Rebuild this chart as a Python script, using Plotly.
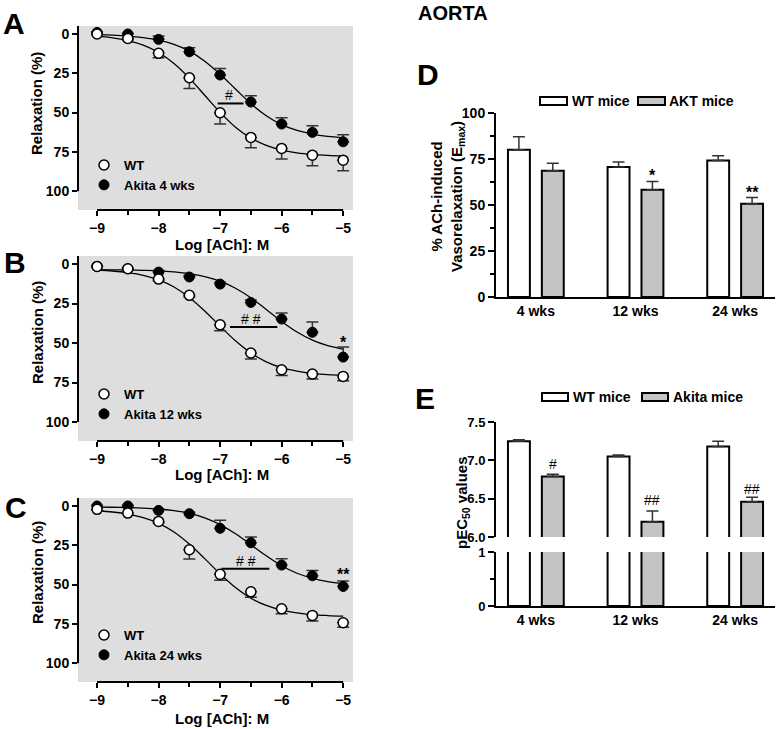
import plotly.graph_objects as go

W, H = 779, 729
FONT = "Liberation Sans, Arial, sans-serif"


def px(x):
    return x / W


def py(y):
    return 1 - y / H


# ---------------- data ----------------
log_ach = [-9, -8.5, -8, -7.5, -7, -6.5, -6, -5.5, -5]
fit_x = [-9, -8.75, -8.5, -8.25, -8, -7.75, -7.5, -7.25, -7, -6.75, -6.5,
         -6.25, -6, -5.75, -5.5, -5.25, -5]

# Panel A: 4 wks
A_wt = [0.0, 2.8, 12.3, 27.8, 50.1, 65.8, 72.8, 77.1, 80.3]
A_wt_err = [0.5, 0.8, 2.8, 6.8, 7.2, 6.6, 6.8, 6.8, 6.7]
A_ak = [-1.0, 0.0, 3.4, 11.3, 26.1, 43.3, 57.3, 62.6, 68.6]
A_ak_err = [0.5, 0.5, 2.1, 2.6, 4.2, 4.0, 4.0, 4.2, 4.5]
A_wt_fit = [1.4, 2.4, 4.2, 7.1, 11.8, 18.8, 28.1, 39.0, 49.9, 59.3, 66.2,
            70.9, 73.9, 75.6, 76.6, 77.2, 77.6]
A_ak_fit = [0.4, 0.7, 1.3, 2.3, 3.9, 6.6, 10.9, 17.3, 25.6, 35.0, 44.3,
            52.0, 57.7, 61.4, 63.7, 65.1, 65.9]

# Panel B: 12 wks
B_wt = [1.5, 3.0, 9.5, 19.8, 38.4, 56.3, 66.9, 69.6, 71.1]
B_wt_err = [0.5, 0.5, 1.0, 1.0, 3.8, 3.8, 3.6, 3.2, 2.7]
B_ak = [1.5, 3.0, 5.1, 8.2, 12.7, 24.3, 34.8, 43.2, 58.9]
B_ak_err = [0.5, 0.5, 1.0, 1.0, 1.2, 1.5, 3.8, 6.5, 6.4]
B_wt_fit = [3.8, 4.4, 5.4, 7.1, 10.0, 14.5, 21.1, 29.7, 39.3, 48.6, 56.3,
            61.9, 65.6, 67.8, 69.2, 70.0, 70.4]
B_ak_fit = [3.6, 3.7, 3.8, 4.0, 4.3, 5.0, 6.1, 7.9, 10.8, 15.3, 21.3,
            28.7, 36.3, 43.0, 48.1, 51.6, 53.8]

# Panel C: 24 wks
C_wt = [2.1, 4.5, 9.8, 27.8, 43.5, 54.6, 65.4, 69.6, 74.3]
C_wt_err = [0.5, 0.5, 1.0, 6.0, 3.8, 3.4, 3.2, 3.6, 2.8]
C_ak = [0.0, 0.0, 2.8, 4.9, 14.2, 23.4, 37.6, 44.4, 51.2]
C_ak_err = [0.5, 0.5, 0.8, 1.0, 5.1, 3.7, 4.1, 3.4, 3.4]
C_wt_fit = [3.0, 3.8, 5.1, 7.4, 11.0, 16.5, 24.2, 33.5, 43.2, 51.9, 58.7,
            63.3, 66.3, 68.0, 69.1, 69.7, 70.1]
C_ak_fit = [0.7, 0.8, 1.0, 1.3, 1.9, 3.0, 4.7, 7.5, 11.8, 17.6, 24.6,
            31.7, 38.0, 42.8, 46.0, 48.1, 49.3]

# Panel D: Emax
weeks = ["4 wks", "12 wks", "24 wks"]
emax_wt = [80.0, 70.7, 74.2]
emax_wt_err = [7.1, 2.7, 2.6]
emax_akt = [68.6, 58.3, 50.7]
emax_akt_err = [4.1, 4.5, 3.4]

# Panel E: pEC50
pec_wt = [7.25, 7.05, 7.18]
pec_wt_err = [0.02, 0.02, 0.07]
pec_ak = [6.79, 6.20, 6.46]
pec_ak_err = [0.03, 0.14, 0.06]

curve_ticks = [0, 25, 50, 75, 100]
curve_x_ticks = [-9, -8, -7, -6, -5]

# ---------------- figure ----------------
fig = go.Figure()

GRAY_BG = "#dedede"
BAR_GRAY = "#c4c4c4"
ERR_COL = "#333333"

panels = [
    ("", "", "legend", "Akita 4 wks", A_wt, A_wt_err, A_ak, A_ak_err, A_wt_fit, A_ak_fit),
    ("2", "2", "legend2", "Akita 12 wks", B_wt, B_wt_err, B_ak, B_ak_err, B_wt_fit, B_ak_fit),
    ("3", "3", "legend3", "Akita 24 wks", C_wt, C_wt_err, C_ak, C_ak_err, C_wt_fit, C_ak_fit),
]

for xs, ys, leg, ak_name, wt, wt_err, ak, ak_err, wt_fit, ak_fit in panels:
    xa, ya = "x" + xs, "y" + ys
    fig.add_trace(go.Scatter(x=fit_x, y=wt_fit, mode="lines", line=dict(color="black", width=1.3, shape="spline"),
                             xaxis=xa, yaxis=ya, showlegend=False, hoverinfo="skip"))
    fig.add_trace(go.Scatter(x=fit_x, y=ak_fit, mode="lines", line=dict(color="black", width=1.3, shape="spline"),
                             xaxis=xa, yaxis=ya, showlegend=False, hoverinfo="skip"))
    fig.add_trace(go.Scatter(
        x=log_ach, y=ak, mode="markers", name=ak_name, legend=leg, legendrank=2,
        marker=dict(color="black", size=10, line=dict(color="black", width=1)),
        error_y=dict(type="data", symmetric=False, array=[0] * len(ak), arrayminus=ak_err,
                     color=ERR_COL, thickness=1.5, width=6),
        xaxis=xa, yaxis=ya))
    fig.add_trace(go.Scatter(
        x=log_ach, y=wt, mode="markers", name="WT", legend=leg, legendrank=1,
        marker=dict(color="white", size=10, line=dict(color="black", width=1.5)),
        error_y=dict(type="data", symmetric=False, array=wt_err, arrayminus=[0] * len(wt),
                     color=ERR_COL, thickness=1.5, width=6),
        xaxis=xa, yaxis=ya))

# Panel D bars
fig.add_trace(go.Bar(x=weeks, y=emax_wt, offset=-0.28, width=0.22, marker=dict(color="white", line=dict(color="black", width=2)),
                     error_y=dict(type="data", symmetric=False, array=emax_wt_err, arrayminus=[0, 0, 0], color=ERR_COL, thickness=1.5, width=6),
                     xaxis="x4", yaxis="y4", showlegend=False))
fig.add_trace(go.Bar(x=weeks, y=emax_akt, offset=0.06, width=0.22, marker=dict(color=BAR_GRAY, line=dict(color="black", width=2)),
                     error_y=dict(type="data", symmetric=False, array=emax_akt_err, arrayminus=[0, 0, 0], color=ERR_COL, thickness=1.5, width=6),
                     xaxis="x4", yaxis="y4", showlegend=False))

# Panel E bars (broken axis: upper y5, lower y6)
for yax, with_err in (("y5", True), ("y6", False)):
    fig.add_trace(go.Bar(x=weeks, y=pec_wt, offset=-0.28, width=0.22, marker=dict(color="white", line=dict(color="black", width=2)),
                         error_y=dict(type="data", symmetric=False, array=pec_wt_err, arrayminus=[0, 0, 0], color=ERR_COL,
                                      thickness=1.5, width=6, visible=with_err),
                         xaxis="x5", yaxis=yax, showlegend=False))
    fig.add_trace(go.Bar(x=weeks, y=pec_ak, offset=0.06, width=0.22, marker=dict(color=BAR_GRAY, line=dict(color="black", width=2)),
                         error_y=dict(type="data", symmetric=False, array=pec_ak_err, arrayminus=[0, 0, 0], color=ERR_COL,
                                      thickness=1.5, width=6, visible=with_err),
                         xaxis="x5", yaxis=yax, showlegend=False))

tickfont = dict(family=FONT, size=14, color="black", weight="bold")

# curve panel axes
curve_dom_x = [px(78), px(353)]
curve_dom_y = [[py(210), py(26)], [py(441), py(256)], [py(682), py(498)]]
for i, (xs, ys) in enumerate([("", ""), ("2", "2"), ("3", "3")]):
    fig.layout["xaxis" + xs] = dict(
        domain=curve_dom_x, range=[-9.31, -4.84], anchor="y" + ys, tickvals=curve_x_ticks,
        ticks="outside", ticklen=5, tickwidth=2, tickcolor="black", showline=False, showgrid=False,
        zeroline=False, tickfont=tickfont, automargin=False,
        minor=dict(dtick=0.5, tick0=-9, ticks="outside", ticklen=4, tickwidth=2, tickcolor="black", showgrid=False))
    fig.layout["yaxis" + ys] = dict(
        domain=curve_dom_y[i], range=[112, -5.1], anchor="x" + xs, tickvals=curve_ticks,
        ticks="outside", ticklen=5, tickwidth=2, tickcolor="black", showline=False, showgrid=False,
        zeroline=False, tickfont=tickfont, automargin=False)

fig.layout["xaxis4"] = dict(domain=[px(496), px(775)], range=[-0.4, 2.4], anchor="y4", type="category",
                            showline=True, linewidth=2, linecolor="black", ticks="", showgrid=False,
                            tickfont=tickfont, automargin=False)
fig.layout["yaxis4"] = dict(domain=[py(297), py(113)], range=[0, 100], anchor="x4", tickvals=curve_ticks,
                            showline=True, linewidth=2, linecolor="black", ticks="outside", ticklen=6, tickwidth=2,
                            tickcolor="black", showgrid=False, zeroline=False, tickfont=tickfont, automargin=False,
                            minor=dict(dtick=12.5, tick0=0, ticks="outside", ticklen=4, tickwidth=2, tickcolor="black", showgrid=False))
fig.layout["xaxis5"] = dict(domain=[px(496), px(775)], range=[-0.4, 2.4], anchor="y6", type="category",
                            showline=True, linewidth=2, linecolor="black", ticks="", showgrid=False,
                            tickfont=tickfont, automargin=False)
etickfont = dict(family=FONT, size=13, color="black", weight="bold")
fig.layout["yaxis5"] = dict(domain=[py(537), py(422)], range=[6.0, 7.5], anchor="x5", tickvals=[6.0, 6.5, 7.0, 7.5],
                            tickformat=".1f", showline=True, linewidth=2, linecolor="black", ticks="outside", ticklen=6,
                            tickwidth=2, tickcolor="black", showgrid=False, zeroline=False, tickfont=etickfont,
                            automargin=False)
fig.layout["yaxis6"] = dict(domain=[py(606), py(552)], range=[0, 1], anchor="x5", tickvals=[0, 1],
                            showline=True, linewidth=2, linecolor="black", ticks="outside", ticklen=6,
                            tickwidth=2, tickcolor="black", showgrid=False, zeroline=False, tickfont=etickfont,
                            automargin=False,
                            minor=dict(dtick=0.5, tick0=0, ticks="outside", ticklen=4, tickwidth=2, tickcolor="black", showgrid=False))

shapes = []
annotations = []


def ann(x, y, text, size, bold=True, xref="paper", yref="paper", angle=0, xanchor="center"):
    f = dict(family=FONT, size=size, color="black")
    if bold:
        f["weight"] = "bold"
    return dict(xref=xref, yref=yref, x=x, y=y, text=text, showarrow=False, textangle=angle,
                xanchor=xanchor, yanchor="middle", font=f, borderpad=0)


# gray backgrounds and offset axis lines for curve panels
for i, (xs, ys) in enumerate([("", ""), ("2", "2"), ("3", "3")]):
    shapes.append(dict(type="rect", xref="x%s domain" % xs, yref="y%s domain" % ys, x0=0, x1=1, y0=0, y1=1,
                       fillcolor=GRAY_BG, line=dict(width=0), layer="below"))
    shapes.append(dict(type="line", xref="x" + xs, yref="y%s domain" % ys, x0=-9, x1=-5, y0=0, y1=0,
                       line=dict(color="black", width=2)))
    shapes.append(dict(type="line", xref="x%s domain" % xs, yref="y" + ys, x0=0, x1=0, y0=100, y1=-5.1,
                       line=dict(color="black", width=2)))

# significance bars on curve panels
sig_bars = [("", "", -7.04, -6.62, 44.2), ("2", "2", -6.84, -6.07, 39.9), ("3", "3", -6.98, -6.2, 39.9)]
for xs, ys, x0, x1, yv in sig_bars:
    shapes.append(dict(type="line", xref="x" + xs, yref="y" + ys, x0=x0, x1=x1, y0=yv, y1=yv,
                       line=dict(color="black", width=2)))

sig_text = [("", "", -6.85, 39.0, "#", 14, False), ("2", "2", -6.5, 35.0, "# #", 14, False),
            ("3", "3", -6.58, 34.8, "# #", 14, False),
            ("2", "2", -5.0, 49.5, "*", 16, True), ("3", "3", -5.0, 43.5, "**", 16, True)]
for xs, ys, xv, yv, t, s, b in sig_text:
    annotations.append(ann(xv, yv, t, s, bold=b, xref="x" + xs, yref="y" + ys))

for xv, yv, t in [(1.17, 66.0, "*"), (2.17, 57.0, "**")]:
    annotations.append(ann(xv, yv, t, 16, bold=True, xref="x4", yref="y4"))
for xv, yv, t in [(0.17, 6.95, "#"), (1.17, 6.48, "##"), (2.17, 6.63, "##")]:
    annotations.append(ann(xv, yv, t, 14, bold=False, xref="x5", yref="y5"))

# panel letters & title
for t, x, y in [("A", 14, 24), ("B", 15, 262), ("C", 16, 507), ("D", 428, 75), ("E", 425, 398)]:
    annotations.append(ann(px(x), py(y), t, 30))
annotations.append(ann(px(453), py(13), "AORTA", 20))

# axis titles
for y in (104, 333, 573):
    annotations.append(ann(px(37), py(y), "Relaxation (%)", 15, angle=-90))
for y in (244, 474, 718):
    annotations.append(ann(px(222), py(y), "Log [ACh]: M", 15))
annotations.append(ann(px(448), py(197), "% ACh-induced<br>Vasorelaxation (E<sub>max</sub>)", 15, angle=-90))
annotations.append(ann(px(462), py(503), "pEC<sub>50</sub> values", 15, angle=-90))

# bar legends (D and E)
for (x0, x1, yc, fill, label, tx) in [(540, 567, 101, "white", "WT mice", 571), (638, 665, 101, BAR_GRAY, "AKT mice", 668),
                                      (542, 568, 397, "white", "WT mice", 572), (642, 668, 397, BAR_GRAY, "Akita mice", 672)]:
    shapes.append(dict(type="rect", xref="paper", yref="paper", x0=px(x0), x1=px(x1), y0=py(yc + 4), y1=py(yc - 4),
                       fillcolor=fill, line=dict(color="black", width=2)))
    annotations.append(ann(px(tx), py(yc), label, 14, xanchor="left"))

legfont = dict(family=FONT, size=13, color="black", weight="bold")
leg_common = dict(xanchor="left", yanchor="top", bgcolor="rgba(0,0,0,0)", font=legfont, tracegroupgap=0,
                  itemclick=False, itemdoubleclick=False)

fig.update_layout(
    template="none",
    width=W, height=H, autosize=False,
    margin=dict(l=0, r=0, t=0, b=0, pad=0),
    paper_bgcolor="white", plot_bgcolor="rgba(0,0,0,0)",
    barmode="overlay",
    shapes=shapes, annotations=annotations,
    legend=dict(x=px(84), y=py(150), **leg_common),
    legend2=dict(x=px(84), y=py(379), **leg_common),
    legend3=dict(x=px(84), y=py(620), **leg_common),
    font=dict(family=FONT, color="black"),
)

fig.write_html("out.html",
               config={"displayModeBar": False},
               post_script="document.body.style.margin='0px';document.body.style.padding='0px';"
                           "document.body.style.overflow='hidden';")
